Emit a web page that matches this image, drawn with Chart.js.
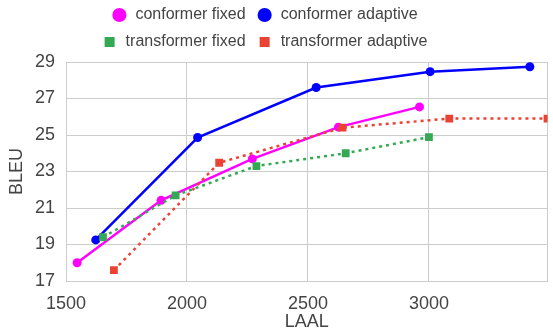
<!DOCTYPE html>
<html>
<head>
<meta charset="utf-8">
<script src="https://cdn.jsdelivr.net/npm/chart.js@4.4.1/dist/chart.umd.min.js"></script>
<style>
  html, body { margin: 0; padding: 0; background: #fff; }
  #wrap { width: 553px; height: 331px; }
</style>
</head>
<body>
<div id="wrap"><canvas id="chart"></canvas></div>
<script>
// values (LAAL, BLEU)
const conformerFixedLaal = [1546, 1893, 2270, 2626, 2961];
const conformerFixedBleu = [18.0, 21.42, 23.69, 25.43, 26.54];
const conformerAdaptiveLaal = [1623, 2044, 2534, 3005, 3417];
const conformerAdaptiveBleu = [19.25, 24.86, 27.6, 28.47, 28.74];
const transformerFixedLaal = [1653, 1953, 2287, 2656, 3000];
const transformerFixedBleu = [19.4, 21.69, 23.3, 24.0, 24.88];
const transformerAdaptiveLaal = [1698, 2133, 2643, 3084, 3490];
const transformerAdaptiveBleu = [17.59, 23.48, 25.4, 25.9, 25.9];

const xTicks = [1500, 2000, 2500, 3000];
const xMax = 3490;
const yTicks = [17, 19, 21, 23, 25, 27, 29];

const FONT = '"Liberation Sans", Arial, sans-serif';
const TEXT = '#444';
const GRID = '#cccccc';

function points(xs, ys) {
  return xs.map((x, i) => ({ x: x, y: ys[i] }));
}

function series(label, xs, ys, color, style) {
  const dotted = style === 'rect';
  return {
    label: label,
    data: points(xs, ys),
    borderColor: color,
    backgroundColor: color,
    pointBackgroundColor: color,
    pointBorderColor: color,
    borderWidth: 2.5,
    borderDash: dotted ? [3, 4] : [],
    pointStyle: style,
    pointRadius: dotted ? 5.5 : 4.5,
    pointBorderWidth: 0,
    tension: 0,
    fill: false,
    order: dotted ? 0 : 1
  };
}

// two legend items per row, fixed legend height so the plot starts where the reference does,
// and rows centred a little left of the canvas centre like the reference
const legendFit = {
  id: 'legendFit',
  beforeInit(chart) {
    const fit = chart.legend.fit;
    chart.legend.fit = function () {
      this.maxWidth = Math.min(this.maxWidth, 400);
      fit.bind(chart.legend)();
      this.height = 66;
    };
  },
  afterLayout(chart) {
    chart.legend.right = chart.legend.left + 529;
  }
};

new Chart(document.getElementById('chart'), {
  type: 'line',
  data: {
    datasets: [
      series('conformer fixed', conformerFixedLaal, conformerFixedBleu, '#ff00ff', 'circle'),
      series('conformer adaptive', conformerAdaptiveLaal, conformerAdaptiveBleu, '#0000ff', 'circle'),
      series('transformer fixed', transformerFixedLaal, transformerFixedBleu, '#34a853', 'rect'),
      series('transformer adaptive', transformerAdaptiveLaal, transformerAdaptiveBleu, '#ea4335', 'rect')
    ]
  },
  plugins: [legendFit],
  options: {
    responsive: true,
    maintainAspectRatio: false,
    animation: false,
    layout: {
      padding: { top: -4, right: 1, left: 0, bottom: 0 }
    },
    plugins: {
      legend: {
        position: 'top',
        labels: {
          usePointStyle: true,
          boxWidth: 16,
          boxHeight: 10,
          padding: 11,
          color: TEXT,
          font: { family: FONT, size: 16 },
          sort: (a, b) => a.datasetIndex - b.datasetIndex
        }
      },
      tooltip: { enabled: false }
    },
    scales: {
      x: {
        type: 'linear',
        min: xTicks[0],
        max: xMax,
        afterBuildTicks(scale) {
          scale.ticks = xTicks.concat([xMax]).map(v => ({ value: v }));
        },
        afterFit(scale) { scale.height = 50; scale.paddingRight = 0; scale.paddingLeft = 0; },
        grid: { color: GRID, drawTicks: false },
        border: { color: GRID },
        ticks: {
          padding: 12,
          autoSkip: false,
          color: TEXT,
          font: { family: FONT, size: 18 },
          maxRotation: 0,
          callback: v => (xTicks.includes(v) ? String(v) : '')
        },
        title: {
          display: true,
          text: 'LAAL',
          color: TEXT,
          padding: { top: 0, bottom: -2 },
          font: { family: FONT, size: 18 }
        }
      },
      y: {
        min: 17,
        max: 29,
        afterBuildTicks(scale) {
          scale.ticks = yTicks.map(v => ({ value: v }));
        },
        afterFit(scale) { scale.width = 66; },
        grid: { color: GRID, drawTicks: false },
        border: { color: GRID },
        ticks: {
          padding: 11,
          color: TEXT,
          font: { family: FONT, size: 18 },
          callback: v => String(v)
        },
        title: {
          display: true,
          text: 'BLEU',
          color: TEXT,
          padding: { top: 6, bottom: 0 },
          font: { family: FONT, size: 18 }
        }
      }
    }
  }
});
</script>
</body>
</html>
